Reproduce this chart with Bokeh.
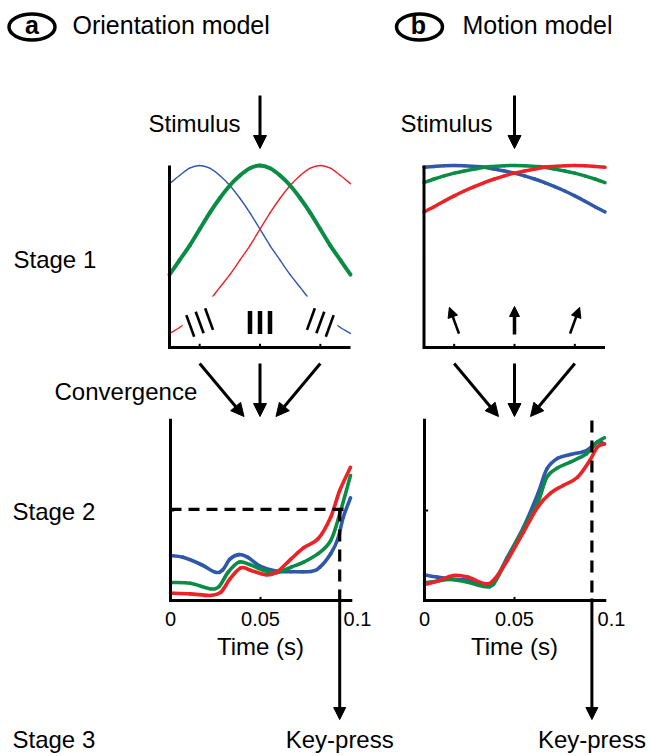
import math
from bokeh.plotting import figure
from bokeh.models import Range1d, Label, Arrow, NormalHead
from bokeh.core.properties import value
from bokeh.embed import file_html
from bokeh.resources import INLINE

# ---------------- data ----------------
# Stage 1: tuning curves, response (0..1) against stimulus angle (deg)
angle_deg = [-90, -80, -70, -60, -50, -40, -30, -20, -10, 0, 10, 20, 30, 40, 50, 60, 70, 80, 90]
orient_blue = [0.90, 0.945, 0.985, 1.00, 0.985, 0.945, 0.89, 0.82, 0.74, 0.65, 0.56, 0.48, 0.40, 0.33, 0.26, 0.20, 0.15, 0.11, 0.077]
orient_green = [0.40, 0.48, 0.56, 0.65, 0.74, 0.82, 0.89, 0.945, 0.985, 1.00, 0.985, 0.945, 0.89, 0.82, 0.74, 0.65, 0.56, 0.48, 0.40]
orient_red = [0.077, 0.11, 0.15, 0.20, 0.26, 0.33, 0.40, 0.48, 0.56, 0.65, 0.74, 0.82, 0.89, 0.945, 0.985, 1.00, 0.985, 0.945, 0.90]
motion_blue = [0.99, 0.995, 0.999, 1.00, 0.999, 0.995, 0.99, 0.98, 0.97, 0.958, 0.943, 0.926, 0.906, 0.884, 0.86, 0.833, 0.804, 0.773, 0.745]
motion_green = [0.906, 0.926, 0.943, 0.958, 0.97, 0.98, 0.99, 0.995, 0.999, 1.00, 0.999, 0.995, 0.99, 0.98, 0.97, 0.958, 0.943, 0.926, 0.906]
motion_red = [0.745, 0.773, 0.804, 0.833, 0.86, 0.884, 0.906, 0.926, 0.943, 0.958, 0.97, 0.98, 0.99, 0.995, 0.999, 1.00, 0.999, 0.995, 0.99]
stim_positions = [-60, 0, 60]      # tick positions on stage-1 axes
stim_tilt_deg = [-20, 0, 20]       # drawn tilt of gratings / motion arrows

# Stage 2: accumulated evidence against time (s)
a_blue_t = [0.0, 0.007, 0.017, 0.025, 0.029, 0.033, 0.038, 0.043, 0.05, 0.059, 0.067, 0.078, 0.083, 0.089, 0.093, 0.096, 0.1]
a_blue_v = [0.25, 0.24, 0.20, 0.157, 0.17, 0.23, 0.255, 0.24, 0.19, 0.163, 0.16, 0.161, 0.185, 0.26, 0.343, 0.463, 0.57]
a_green_t = [0.0, 0.011, 0.022, 0.027, 0.032, 0.038, 0.044, 0.052, 0.059, 0.067, 0.074, 0.082, 0.089, 0.094, 0.1]
a_green_v = [0.10, 0.096, 0.065, 0.078, 0.157, 0.213, 0.20, 0.167, 0.154, 0.185, 0.213, 0.26, 0.333, 0.48, 0.694]
a_red_t = [0.0, 0.011, 0.022, 0.028, 0.033, 0.039, 0.044, 0.053, 0.059, 0.067, 0.074, 0.082, 0.089, 0.094, 0.1]
a_red_v = [0.041, 0.037, 0.028, 0.046, 0.12, 0.181, 0.17, 0.143, 0.157, 0.231, 0.293, 0.343, 0.463, 0.611, 0.74]
b_blue_t = [0.0, 0.007, 0.014, 0.024, 0.033, 0.0385, 0.046, 0.055, 0.063, 0.068, 0.074, 0.081, 0.090, 0.096, 0.1]
b_blue_v = [0.143, 0.13, 0.12, 0.111, 0.087, 0.10, 0.24, 0.407, 0.593, 0.731, 0.79, 0.811, 0.833, 0.88, 0.87]
b_green_t = [0.0, 0.007, 0.014, 0.024, 0.033, 0.0385, 0.046, 0.055, 0.063, 0.068, 0.074, 0.081, 0.090, 0.096, 0.1]
b_green_v = [0.098, 0.107, 0.117, 0.102, 0.078, 0.093, 0.231, 0.398, 0.546, 0.685, 0.737, 0.769, 0.815, 0.88, 0.904]
b_red_t = [0.0, 0.007, 0.016, 0.024, 0.034, 0.039, 0.046, 0.055, 0.063, 0.070, 0.077, 0.085, 0.092, 0.096, 0.1]
b_red_v = [0.089, 0.107, 0.139, 0.13, 0.093, 0.12, 0.222, 0.38, 0.52, 0.596, 0.639, 0.685, 0.781, 0.852, 0.87]
threshold_a = 0.506
decision_t_a = 0.094
decision_t_b = 0.093
time_ticks = [0, 0.05, 0.1]
time_tick_labels = ["0", "0.05", "0.1"]

# ---------------- styling / layout ----------------
BLUE, GREEN, RED = "#2f58a8", "#0b8c45", "#ec2227"
FONT = "Liberation Sans"
W, H = 648, 756
TXT_SHIFT = 9  # renderer places alphabetic baseline a little low

PANELS = {
    "a1": dict(x=(-90, 90), px=(169, 350), py=(347, 165)),
    "b1": dict(x=(-90, 90), px=(423.5, 604.5), py=(347, 165)),
    "a2": dict(x=(0, 0.1), px=(170, 350), py=(600, 420)),
    "b2": dict(x=(0, 0.1), px=(424, 604), py=(600, 420)),
}

p = figure(width=W, height=H, x_range=Range1d(0, W), y_range=Range1d(H, 0),
           output_backend="svg", toolbar_location=None,
           x_axis_type=None, y_axis_type=None, min_border=0)
p.grid.visible = False
p.outline_line_color = None
p.background_fill_color = "white"


def sub(c):
    return p.subplot(x_source=Range1d(*c["x"]), y_source=Range1d(0, 1),
                     x_target=Range1d(*c["px"]), y_target=Range1d(*c["py"]))


def px_x(c, x):
    (a, b), (pa, pb) = c["x"], c["px"]
    return pa + (x - a) / (b - a) * (pb - pa)


def arrow(x0, y0, x1, y1, lw=3, size=13):
    p.add_layout(Arrow(end=NormalHead(size=size, fill_color="black", line_color="black", line_width=1),
                       x_start=x0, y_start=y0, x_end=x1, y_end=y1,
                       line_width=lw, line_color="black"))


def label(x, y, text, size="24px", align="left", bold=False):
    p.add_layout(Label(x=x, y=y - TXT_SHIFT, text=text, text_font=FONT, text_font_size=size,
                       text_align=align, text_baseline="alphabetic", text_color="black",
                       text_font_style="bold" if bold else "normal"))


def axes(s, c, top=1.0, xext=0.0):
    x0, x1 = c["x"]
    s.line(x=[x0, x0, x1 + xext], y=[top, 0, 0], line_color="black", line_width=3, line_join="miter")


def smooth(s, xs, ys, color, width):
    """Draw a smooth curve through every read point (Catmull-Rom as Bezier pieces)."""
    n = len(xs)
    X = [xs[0]] + list(xs) + [xs[-1]]
    Y = [ys[0]] + list(ys) + [ys[-1]]
    x0, y0, x1, y1, cx0, cy0, cx1, cy1 = [], [], [], [], [], [], [], []
    for i in range(1, n):
        x0.append(X[i]); y0.append(Y[i]); x1.append(X[i + 1]); y1.append(Y[i + 1])
        cx0.append(X[i] + (X[i + 1] - X[i - 1]) / 6); cy0.append(Y[i] + (Y[i + 1] - Y[i - 1]) / 6)
        cx1.append(X[i + 1] - (X[i + 2] - X[i]) / 6); cy1.append(Y[i + 1] - (Y[i + 2] - Y[i]) / 6)
    s.bezier(x0=x0, y0=y0, x1=x1, y1=y1, cx0=cx0, cy0=cy0, cx1=cx1, cy1=cy1,
             line_color=color, line_width=width, line_cap="round")


# ---------------- titles & row labels ----------------
p.ellipse(x=[31.5, 419], y=[26.5, 26.5], width=46, height=26, fill_color=None,
          line_color="black", line_width=3.5)
label(31.5, 33, "a", size="25px", align="center", bold=True)
label(418, 33, "b", size="25px", align="center", bold=True)
label(72, 33, "Orientation model", size="25px")
label(462, 33, "Motion model", size="25px")
label(148, 132, "Stimulus")
label(400, 132, "Stimulus")
label(13, 268, "Stage 1")
label(54, 400, "Convergence")
label(12, 520, "Stage 2")
label(12, 748, "Stage 3")

# ---------------- stage 1, orientation ----------------
ca1 = PANELS["a1"]
s = sub(ca1)
smooth(s, angle_deg, orient_blue, BLUE, 1.4)
smooth(s, angle_deg, orient_red, RED, 1.4)
smooth(s, angle_deg, orient_green, GREEN, 4)
axes(s, ca1)
s.segment(x0=stim_positions, y0=[0] * 3, x1=stim_positions, y1=[0.02] * 3, line_color="black", line_width=2)

# white gaps around the tilted gratings, then the gratings
for pos, tilt in zip(stim_positions, stim_tilt_deg):
    if tilt == 0:
        continue
    cx = px_x(ca1, pos)
    p.quad(left=cx - 17, right=cx + 17, top=296, bottom=340, fill_color="white", line_color=None)
for pos, tilt in zip(stim_positions, stim_tilt_deg):
    cx, cy = px_x(ca1, pos), 322
    th = math.radians(tilt)
    dx, dy = math.sin(th), -math.cos(th)
    ux, uy = math.cos(th), math.sin(th)
    xs0, ys0, xs1, ys1 = [], [], [], []
    for k in (-1, 0, 1):
        mx, my = cx + k * 10 * ux, cy + k * 10 * uy
        xs0.append(mx - 11.5 * dx); ys0.append(my - 11.5 * dy)
        xs1.append(mx + 11.5 * dx); ys1.append(my + 11.5 * dy)
    p.segment(x0=xs0, y0=ys0, x1=xs1, y1=ys1, line_color="black",
              line_width=4.5 if tilt == 0 else 2.6, line_cap="butt")

# ---------------- stage 1, motion ----------------
cb1 = PANELS["b1"]
s = sub(cb1)
smooth(s, angle_deg, motion_blue, BLUE, 3.5)
smooth(s, angle_deg, motion_green, GREEN, 3.5)
smooth(s, angle_deg, motion_red, RED, 3.5)
axes(s, cb1)
s.segment(x0=stim_positions, y0=[0] * 3, x1=stim_positions, y1=[0.02] * 3, line_color="black", line_width=2)
for pos, tilt in zip(stim_positions, stim_tilt_deg):
    cx, cy = px_x(cb1, pos), 320
    th = math.radians(tilt)
    dx, dy = math.sin(th), -math.cos(th)
    arrow(cx - 14 * dx, cy - 14 * dy, cx + 14 * dx, cy + 14 * dy,
          lw=3.5 if tilt == 0 else 2.6, size=10)

# ---------------- stimulus & convergence arrows ----------------
for c in (ca1, cb1):
    mid = px_x(c, 0)
    arrow(mid, 95, mid, 148)
    arrow(px_x(c, stim_positions[0]), 363, mid - 16, 416)
    arrow(mid, 363, mid, 416)
    arrow(px_x(c, stim_positions[2]), 363, mid + 16, 416)

# ---------------- stage 2 ----------------
for key, series, dec_t, thr in (
        ("a2", [(a_blue_t, a_blue_v, BLUE), (a_green_t, a_green_v, GREEN), (a_red_t, a_red_v, RED)], decision_t_a, threshold_a),
        ("b2", [(b_blue_t, b_blue_v, BLUE), (b_green_t, b_green_v, GREEN), (b_red_t, b_red_v, RED)], decision_t_b, None)):
    c = PANELS[key]
    s = sub(c)
    for t, v, col in series:
        smooth(s, t, v, col, 3.6)
    axes(s, c, top=1.01, xext=0.001)
    s.segment(x0=[0.05], y0=[0], x1=[0.05], y1=[0.02], line_color="black", line_width=2)
    s.segment(x0=[0], y0=[0.5], x1=[0.002], y1=[0.5], line_color="black", line_width=2)
    if thr is not None:
        s.segment(x0=[0], y0=[thr], x1=[0.1], y1=[thr], line_color="black", line_width=3.2, line_dash="11 7")
        s.segment(x0=[dec_t], y0=[thr], x1=[dec_t], y1=[0], line_color="black", line_width=3.2, line_dash="12 8")
    else:
        s.segment(x0=[dec_t], y0=[1.0], x1=[dec_t], y1=[0], line_color="black", line_width=3.2, line_dash="12 8")
    s.text(x=time_ticks, y=[0] * 3, text=time_tick_labels, text_align="center", text_baseline="alphabetic",
           x_offset=[0, 0, 7], y_offset=25 - 7, text_font=value(FONT), text_font_size="20px", text_color="black")
    s.text(x=[0.05], y=[0], text=["Time (s)"], text_align="center", text_baseline="alphabetic",
           y_offset=55 - TXT_SHIFT, text_font=value(FONT), text_font_size="24px", text_color="black")
    xd = px_x(c, dec_t)
    arrow(xd, 598, xd, 719, lw=3, size=12)
    label(xd, 748, "Key-press", align="center")

open("out.html", "w").write(file_html(p, INLINE))
